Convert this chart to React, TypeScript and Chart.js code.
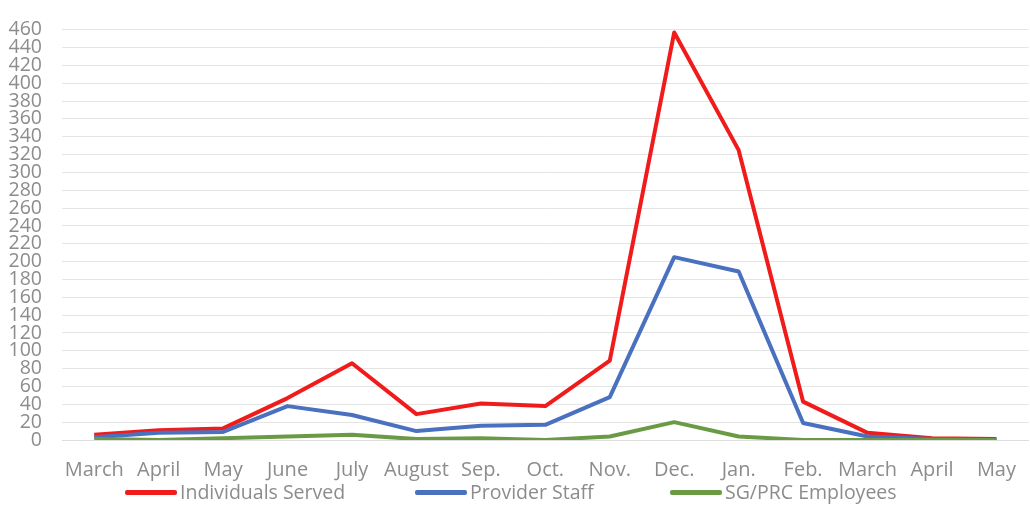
import React, { useEffect, useRef } from "react";
import { Chart, registerables } from "chart.js";

Chart.register(...registerables);

const months = ["March", "April", "May", "June", "July", "August", "Sep.", "Oct.", "Nov.", "Dec.", "Jan.", "Feb.", "March", "April", "May"];
const individualsServed = [6, 11, 13, 47, 86, 29, 41, 38, 89, 457, 325, 43, 8, 2, 1];
const providerStaff = [3, 8, 9, 38, 28, 10, 16, 17, 48, 205, 189, 19, 4, 1, 0];
const sgPrcEmployees = [1, 0, 2, 4, 6, 1, 2, 0, 4, 20, 4, 0, 0, 0, 0];
const seriesNames = ["Individuals Served", "Provider Staff", "SG/PRC Employees"];
const seriesColors = ["#f01c1c", "#4a70c0", "#6b9a45"];

const FONT = "'Open Sans', Lato, sans-serif";
const TEXT_COLOR = "#8c8c8c";

export default function App() {
  const ref = useRef<HTMLCanvasElement | null>(null);

  useEffect(() => {
    if (!ref.current) return;
    const chart = new Chart(ref.current, {
      type: "line",
      data: {
        labels: months,
        datasets: [
          { label: seriesNames[0], data: individualsServed, borderColor: seriesColors[0], backgroundColor: seriesColors[0], order: 2 },
          { label: seriesNames[1], data: providerStaff, borderColor: seriesColors[1], backgroundColor: seriesColors[1], order: 1 },
          { label: seriesNames[2], data: sgPrcEmployees, borderColor: seriesColors[2], backgroundColor: seriesColors[2], order: 0 },
        ].map((d) => ({ ...d, borderWidth: 4, pointRadius: 0, tension: 0, fill: false, borderJoinStyle: "round" as const })),
      },
      options: {
        animation: false,
        responsive: false,
        maintainAspectRatio: false,
        layout: { padding: { top: 23, left: 0, right: 0, bottom: 0 } },
        plugins: { legend: { display: false }, tooltip: { enabled: false } },
        scales: {
          x: {
            offset: true,
            grid: { display: false, drawTicks: false },
            border: { display: true, color: "#dedede", width: 1 },
            ticks: { color: TEXT_COLOR, font: { family: FONT, size: 20, lineHeight: 1 }, padding: 20, maxRotation: 0, autoSkip: false },
            afterFit: (s: any) => { s.height = 67; },
          },
          y: {
            min: 0,
            max: 460,
            grid: { color: "#e4e4e4", lineWidth: 1, drawTicks: false },
            border: { display: false },
            ticks: { stepSize: 20, autoSkip: false, color: TEXT_COLOR, font: { family: FONT, size: 19.5, lineHeight: 1 }, padding: 20 },
            afterFit: (s: any) => { s.width = 62; },
          },
        },
      },
    });
    return () => chart.destroy();
  }, []);

  return (
    <div style={{ position: "absolute", left: 0, top: 0, width: 1036, height: 507, overflow: "hidden", background: "#fff" }}>
      <canvas ref={ref} width={1036} height={507} style={{ display: "block" }} />
      <div style={{ position: "absolute", top: 480, left: 0, width: 1036, height: 24, fontFamily: FONT, fontSize: 19.5, color: TEXT_COLOR, lineHeight: "24px" }}>
        {seriesNames.map((n, i) => (
          <div key={n} style={{ position: "absolute", left: [125, 415, 670][i], top: 0, display: "flex", alignItems: "center", whiteSpace: "nowrap" }}>
            <span style={{ display: "inline-block", width: 52, height: 5, background: seriesColors[i], borderRadius: 2, marginRight: 3 }} />
            <span>{n}</span>
          </div>
        ))}
      </div>
    </div>
  );
}
